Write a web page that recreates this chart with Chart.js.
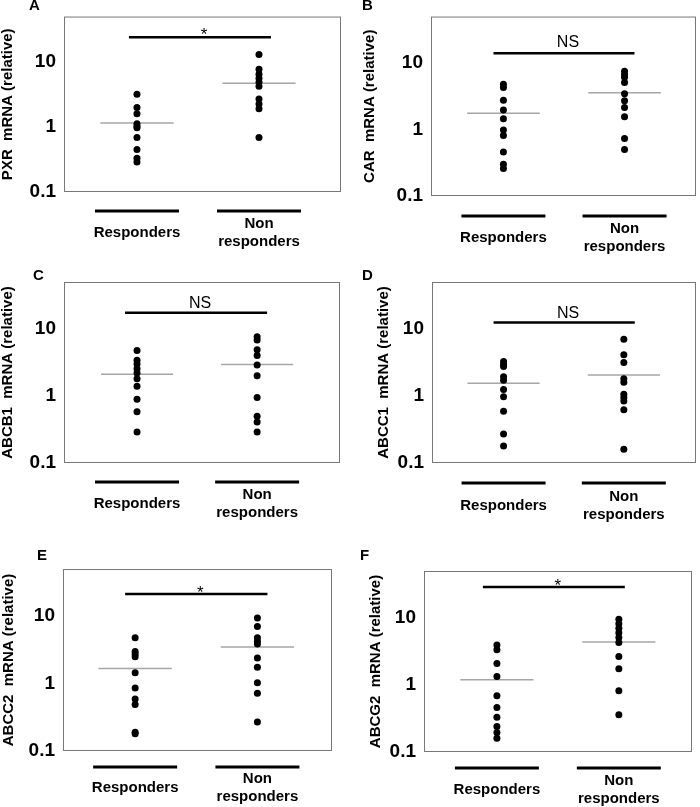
<!DOCTYPE html>
<html>
<head>
<meta charset="utf-8">
<script src="https://cdn.jsdelivr.net/npm/chart.js@4.4.1/dist/chart.umd.min.js"></script>
<style>
body { margin: 0; background: #fff; }
#fig { position: relative; width: 700px; height: 807px; }
#fig canvas { position: absolute; }
</style>
</head>
<body>
<div id="fig">
  <canvas id="pA" width="350" height="265" style="left:0;top:0"></canvas>
  <canvas id="pB" width="350" height="265" style="left:350px;top:0"></canvas>
  <canvas id="pC" width="350" height="265" style="left:0;top:265px"></canvas>
  <canvas id="pD" width="350" height="265" style="left:350px;top:265px"></canvas>
  <canvas id="pE" width="350" height="277" style="left:0;top:530px"></canvas>
  <canvas id="pF" width="350" height="277" style="left:350px;top:530px"></canvas>
</div>
<script>
// data
const categories = ['Responders', ['Non', 'responders']];
const yTicks = [0.1, 1, 10];

const respA = [3.2, 2.0, 1.6, 1.12, 1.03, 0.97, 0.69, 0.45, 0.33, 0.29];
const nonA = [13, 7.7, 6.5, 5.6, 4.9, 4.25, 2.7, 2.25, 1.9, 0.69];
const medA = [1.15, 4.7];

const respB = [4.8, 4.3, 2.75, 1.97, 1.45, 0.98, 0.81, 0.46, 0.3, 0.26];
const nonB = [7.5, 6.7, 6.1, 5.1, 3.45, 2.7, 2.15, 1.55, 0.73, 0.5];
const medB = [1.76, 3.56];

const respC = [4.75, 3.4, 3.0, 2.55, 2.2, 1.8, 1.4, 0.89, 0.58, 0.29];
const nonC = [7.6, 6.8, 4.9, 4.0, 2.9, 2.0, 0.95, 0.5, 0.41, 0.29];
const medC = [2.1, 2.95];

const respD = [3.25, 2.95, 2.75, 1.93, 1.72, 1.25, 0.97, 0.59, 0.27, 0.18];
const nonD = [7.0, 4.1, 3.15, 1.8, 1.6, 1.06, 0.95, 0.84, 0.62, 0.16];
const medD = [1.55, 2.05];

const respE = [4.8, 3.0, 2.75, 2.5, 1.45, 0.86, 0.59, 0.49, 0.19, 0.18];
const nonE = [9.4, 7.0, 4.8, 4.25, 3.85, 2.4, 1.75, 1.03, 0.72, 0.27];
const medE = [1.67, 3.48];

const respF = [3.95, 3.35, 2.08, 1.34, 0.69, 0.46, 0.33, 0.24, 0.195, 0.16];
const nonF = [9.5, 8.2, 7.0, 6.0, 5.1, 4.3, 2.65, 1.75, 0.82, 0.36];
const medF = [1.2, 4.35];

const sigLevels = [24, 14, 17.4, 12.4, 21.3, 28.8];
const sigLabels = ['*', 'NS', 'NS', 'NS', '*', '*'];

Chart.defaults.font.family = '"Liberation Sans", Arial, sans-serif';
Chart.defaults.color = '#000';

const medHalf = 0.3;

// layout of each panel (canvas pixels)
const panels = [
  { id: 'pA', letter: 'A', title: 'PXR  mRNA (relative)', resp: respA, non: nonA, med: medA,
    area: { left: 64, top: 9, right: 341, bottom: 192 }, xr: [0.402, 2.672], bar: [0.934, 2.098],
    titleX: 7, letterPos: [29, 10], lineDy: 19, labelDy: 41, sigDy: 3 },
  { id: 'pB', letter: 'B', title: 'CAR  mRNA (relative)', resp: respB, non: nonB, med: medB,
    area: { left: 81, top: 13, right: 348, bottom: 196 }, xr: [0.402, 2.59], bar: [0.918, 2.082],
    titleX: 20, letterPos: [12, 10], lineDy: 20, labelDy: 41.5, sigDy: -6.6 },
  { id: 'pC', letter: 'C', title: 'ABCB1  mRNA (relative)', resp: respC, non: nonC, med: medC,
    area: { left: 64, top: 17, right: 340, bottom: 198 }, xr: [0.392, 2.69], bar: [0.9, 2.083],
    titleX: 8, letterPos: [33, 15], lineDy: 19, labelDy: 40.5, sigDy: -4.6 },
  { id: 'pD', letter: 'D', title: 'ABCC1  mRNA (relative)', resp: respD, non: nonD, med: medD,
    area: { left: 82, top: 17, right: 348, bottom: 198 }, xr: [0.405, 2.6], bar: [0.917, 2.091],
    titleX: 34, letterPos: [12, 15], lineDy: 20, labelDy: 43, sigDy: -4.6 },
  { id: 'pE', letter: 'E', title: 'ABCC2  mRNA (relative)', resp: respE, non: nonE, med: medE,
    area: { left: 63, top: 39, right: 332, bottom: 221 }, xr: [0.41, 2.61], bar: [0.918, 2.082],
    titleX: 9, letterPos: [37, 30], lineDy: 16, labelDy: 36.5, sigDy: 4 },
  { id: 'pF', letter: 'F', title: 'ABCG2  mRNA (relative)', resp: respF, non: nonF, med: medF,
    area: { left: 74, top: 41, right: 342, bottom: 222 }, xr: [0.402, 2.6], bar: [0.885, 2.049],
    titleX: 26, letterPos: [10, 30], lineDy: 16, labelDy: 38, sigDy: 4 }
];

function makeDecor(p, sig, sigText) {
  return {
    id: 'decor' + p.letter,
    afterDraw(chart) {
      const { ctx, chartArea: a, scales: { x, y } } = chart;
      ctx.save();
      // frame
      ctx.strokeStyle = '#777';
      ctx.lineWidth = 1;
      ctx.strokeRect(a.left + 0.5, a.top + 0.5, a.right - a.left - 1, a.bottom - a.top - 1);

      // significance text
      const mid = (x.getPixelForValue(p.bar[0]) + x.getPixelForValue(p.bar[1])) / 2;
      ctx.fillStyle = '#000';
      ctx.textAlign = 'center';
      ctx.textBaseline = 'alphabetic';
      ctx.font = (sigText === '*' ? '17px' : '16px') + ' "Liberation Sans", Arial';
      ctx.fillText(sigText, mid + 4, y.getPixelForValue(sig) + p.sigDy);

      // group underlines and names
      categories.forEach((c, i) => {
        const cx = x.getPixelForValue(i + 1);
        ctx.lineWidth = 3;
        ctx.strokeStyle = '#000';
        ctx.beginPath();
        ctx.moveTo(cx - 42, a.bottom + p.lineDy);
        ctx.lineTo(cx + 42, a.bottom + p.lineDy);
        ctx.stroke();
        const lines = [].concat(c);
        ctx.font = 'bold 15px "Liberation Sans", Arial';
        ctx.textBaseline = 'middle';
        lines.forEach((t, k) => {
          ctx.fillText(t, cx, a.bottom + p.labelDy + (k - (lines.length - 1) / 2) * 18);
        });
      });

      // panel letter
      ctx.font = 'bold 15px "Liberation Sans", Arial';
      ctx.textAlign = 'left';
      ctx.textBaseline = 'alphabetic';
      ctx.fillText(p.letter, p.letterPos[0], p.letterPos[1]);
      ctx.restore();
    }
  };
}

panels.forEach((p, n) => {
  const canvas = document.getElementById(p.id);
  const W = canvas.width, H = canvas.height;
  const dots = {
    showLine: false, pointRadius: 3.5, pointBackgroundColor: '#000', pointBorderWidth: 0
  };
  const seg = { showLine: true, pointRadius: 0 };

  new Chart(canvas, {
    type: 'scatter',
    data: {
      datasets: [
        Object.assign({ data: p.resp.map(v => ({ x: 1, y: v })) }, dots),
        Object.assign({ data: p.non.map(v => ({ x: 2, y: v })) }, dots),
        Object.assign({ data: [{ x: 1 - medHalf, y: p.med[0] }, { x: 1 + medHalf, y: p.med[0] }],
          borderColor: '#a6a6a6', borderWidth: 1.5 }, seg),
        Object.assign({ data: [{ x: 2 - medHalf, y: p.med[1] }, { x: 2 + medHalf, y: p.med[1] }],
          borderColor: '#a6a6a6', borderWidth: 1.5 }, seg),
        Object.assign({ data: [{ x: p.bar[0], y: sigLevels[n] }, { x: p.bar[1], y: sigLevels[n] }],
          borderColor: '#000', borderWidth: 2.5 }, seg)
      ]
    },
    options: {
      responsive: false,
      animation: false,
      events: [],
      layout: { padding: { left: 0, top: p.area.top, right: W - p.area.right, bottom: 0 } },
      plugins: { legend: { display: false }, tooltip: { enabled: false } },
      scales: {
        x: {
          type: 'linear', min: p.xr[0], max: p.xr[1],
          ticks: { display: false },
          grid: { display: false, drawTicks: false },
          border: { display: false },
          afterFit(s) { s.height = H - p.area.bottom; }
        },
        y: {
          type: 'logarithmic', min: 0.1, max: 50,
          afterBuildTicks(s) { s.ticks = yTicks.map(v => ({ value: v })); },
          ticks: {
            callback: v => String(v),
            font: { size: 19, weight: 'bold', lineHeight: 0.9 },
            color: '#000', padding: 8
          },
          grid: { display: false, drawTicks: false },
          border: { display: false },
          title: {
            display: true, text: p.title, color: '#000',
            font: { size: 15, weight: 'bold', lineHeight: 1 },
            padding: { top: Math.max(p.titleX - 7.5, 0), bottom: 0 }
          },
          afterFit(s) { s.width = p.area.left; }
        }
      }
    },
    plugins: [makeDecor(p, sigLevels[n], sigLabels[n])]
  });
});
</script>
</body>
</html>
